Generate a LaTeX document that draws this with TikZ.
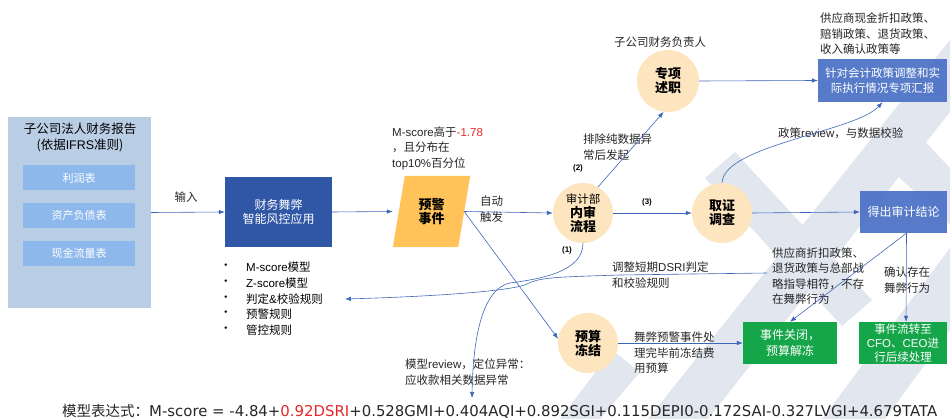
\documentclass[tikz,border=0pt]{standalone}
\usepackage{fontspec}
\setmainfont{Noto Sans CJK SC}
\newfontfamily\latf{Liberation Sans}
\newfontfamily\dejaf{DejaVu Sans}
\newcommand\LT[1]{{\latf #1}}
\usetikzlibrary{shapes.geometric,arrows.meta,calc,backgrounds}
\definecolor{panelc}{HTML}{B9CDE5}
\definecolor{subc}{HTML}{8DB8EC}
\definecolor{appc}{HTML}{3056A6}
\definecolor{warnc}{HTML}{FFC35A}
\definecolor{peach}{HTML}{FDE5C0}
\definecolor{rboxc}{HTML}{4E74C6}
\definecolor{greenc}{HTML}{16A64A}
\definecolor{arrc}{HTML}{3D66B8}
\definecolor{wm}{HTML}{E1E6EF}
\definecolor{redt}{HTML}{E82626}
\begin{document}
\begin{tikzpicture}[x=1pt,y=-1pt,
  arr/.style={draw=arrc, line width=0.6pt, -{Latex[length=6pt,width=4.5pt]}},
  txt/.style={font=\fontsize{11.5}{15.5}\selectfont, inner sep=0pt, align=left, text=black!85},
  circ/.style={circle, fill=peach, minimum size=60pt, inner sep=0pt, align=center, font=\fontsize{13}{14}\selectfont\bfseries},
  subbox/.style={fill=subc, minimum width=112pt, minimum height=25pt, inner sep=0pt, text=white, font=\fontsize{11}{13}\selectfont},
  rbox/.style={fill=rboxc, fill opacity=0.95, text opacity=1, text=white, align=center, inner sep=0pt, font=\fontsize{11.5}{15}\selectfont},
  gbox/.style={fill=greenc, text=white, align=center, inner sep=0pt, font=\fontsize{11.5}{15}\selectfont},
  tag/.style={font=\fontsize{8}{9}\selectfont\latf\bfseries, inner sep=0pt},
  bul/.style={font=\fontsize{11.5}{13}\selectfont, inner sep=0pt, anchor=west},
  wmark/.style={fill=wm}
]
\useasboundingbox (0,0) rectangle (950,419);

% faint watermark
\fill[wmark] (648,419) -- (708,419) -- (950,112) -- (950,40) -- cycle;
\fill[wmark] (822,419) -- (885,419) -- (950,330) -- (950,248) -- cycle;
\fill[wmark] (705,178) -- (735,152) -- (872,300) -- (842,326) -- cycle;
\fill[wmark] (870,150) -- (905,120) -- (950,168) -- (950,225) -- cycle;
\fill[wmark] (560,419) -- (600,419) -- (640,372) -- (612,350) -- cycle;

% left panel
\node[fill=panelc, minimum width=143pt, minimum height=191pt, inner sep=0pt] (panel) at (79.5,212.5) {};
\node[font=\fontsize{12.5}{16}\selectfont, align=center, inner sep=0pt] (ptitle) at (80,137) {子公司法人财务报告\\(依据\LT{IFRS}准则)};
\node[subbox] (s1) at (79,178) {利润表};
\node[subbox] (s2) at (79,215.5) {资产负债表};
\node[subbox] (s3) at (79,253.5) {现金流量表};

% app
\node[fill=appc, text=white, minimum width=107pt, minimum height=70pt, inner sep=0pt, align=center, font=\fontsize{12}{14.5}\selectfont] (app) at (278.5,212) {财务舞弊\\智能风控应用};
\node[txt] (in) at (186,197) {输入};

% bullets
\foreach \i/\t/\y in {1/\LT{M-score}模型/267, 2/\LT{Z-score}模型/283, 3/判定\LT{\&}校验规则/299, 4/预警规则/314, 5/管控规则/330}{
  \node[bul] (bd\i) at (220,\y) {\textbullet};
  \node[bul] (b\i) at (246,\y) {\t};
}

% warn (parallelogram)
\node[minimum width=65pt, minimum height=71pt, inner sep=0pt, align=center,
  font=\fontsize{13}{14}\selectfont\bfseries] (warn) at (431.5,211.5) {预警\\事件};
\begin{scope}[on background layer]
\fill[warnc] ($(warn.north west)+(6,0)$) -- ($(warn.north east)+(6,0)$) -- ($(warn.south east)+(-6,0)$) -- ($(warn.south west)+(-6,0)$) -- cycle;
\end{scope}
\node[txt, anchor=west] (ms) at (392,148) {\LT{M-score}高于{\color{redt}\LT{-1.78}}\\，且分布在\\\LT{top10\%}百分位};

% circles
\node[circ] (audit) at (583,213) {{\fontsize{11.5}{12}\selectfont\mdseries 审计部}\\内审\\流程};
\node[circ, minimum size=62pt] (zx) at (668,81) {专项\\述职};
\node[circ] (evid) at (722,213) {取证\\调查};
\node[circ] (budget) at (588,343) {预算\\冻结};

% right boxes
\node[rbox, minimum width=129pt, minimum height=43pt] (policy) at (882.5,80.5) {针对会计政策调整和实\\际执行情况专项汇报};
\node[rbox, minimum width=87pt, minimum height=42pt, font=\fontsize{12}{14}\selectfont] (concl) at (903.5,212) {得出审计结论};
\node[gbox, minimum width=94pt, minimum height=42pt, font=\fontsize{12}{16}\selectfont] (close) at (790,343) {事件关闭，\\预算解冻};
\node[gbox, minimum width=88pt, minimum height=42pt, font=\fontsize{11.5}{14}\selectfont] (flow) at (903,343) {事件流转至\\\LT{CFO}、\LT{CEO}进\\行后续处理};

% labels
\node[txt, anchor=west] (zd) at (480,209) {自动\\触发};
\node[tag] (t3) at (647,202) {(3)};
\node[tag] (t2) at (578,168) {(2)};
\node[tag] (t1) at (567,250) {(1)};
\node[txt] (zxlab) at (660,42) {子公司财务负责人};
\node[txt, anchor=west] (pc) at (583,147) {排除纯数据异\\常后发起};
\node[txt, anchor=west] (pol) at (820,34) {供应商现金折扣政策、\\赔销政策、退货政策、\\收入确认政策等};
\node[txt, anchor=west] (rev) at (778,133) {政策\LT{review}，与数据校验};
\node[txt, anchor=west] (nof) at (772,276) {供应商折扣政策、\\退货政策与总部战\\略指导相符，不存\\在舞弊行为};
\node[txt, anchor=west] (yesf) at (884,280) {确认存在\\舞弊行为};
\node[txt, anchor=west] (dsri) at (612,275) {调整短期\LT{DSRI}判定\\和校验规则};
\node[txt, anchor=west] (frz) at (634,353) {舞弊预警事件处\\理完毕前冻结费\\用预算};
\node[txt, anchor=west] (mrev) at (405,372) {模型\LT{review}，定位异常：\\应收款相关数据异常};

% formula
\node[inner sep=0pt, anchor=west, font=\fontsize{14.5}{16}\selectfont, text=black!85] (formula) at (62,411)
  {模型表达式：{\dejaf\fontsize{14.9}{16}\selectfont M-score = -4.84+{\color{redt}0.92DSRI}+0.528GMI+0.404AQI+0.892SGI+0.115DEPI0-0.172SAI-0.327LVGI+4.679TATA}};

% coordinates
\coordinate (mEnd) at (472,398);
\coordinate (dS) at (767,273);
\coordinate (dE) at (345,299);

% connectors
\draw[arr] (panel.east) -- (app.west);
\draw[arr] (app.east) -- ([xshift=-6pt]warn.west);
\draw[arr] (warn.east) -- (audit.west);
\draw[arr] (warn.east) -- (budget.172);
\draw[arr] (audit.60) -- (zx.262);
\draw[arr] (zx.east) -- (policy.west);
\draw[arr] (audit.east) -- (evid.west);
\draw[arr] (evid.east) -- (concl.west);
\draw[arr] (evid.north) .. controls (724,145) and (855,132) .. (policy.south);
\draw[arr] ([xshift=3pt]concl.south) -- ([xshift=3pt]flow.north);
\draw[arr] ([xshift=3pt]concl.south) -- (close.north);
\draw[arr] (budget.east) -- (close.west);
\draw[arr] (audit.south) .. controls (583,272) and (540,279) .. (510,283) .. controls (485,288) and (473,330) .. (mEnd);
\draw[arr] (dS) -- (620,275) .. controls (560,277) and (540,277) .. (527,284) .. controls (515,290) and (450,296) .. (dE);
\end{tikzpicture}
\end{document}
